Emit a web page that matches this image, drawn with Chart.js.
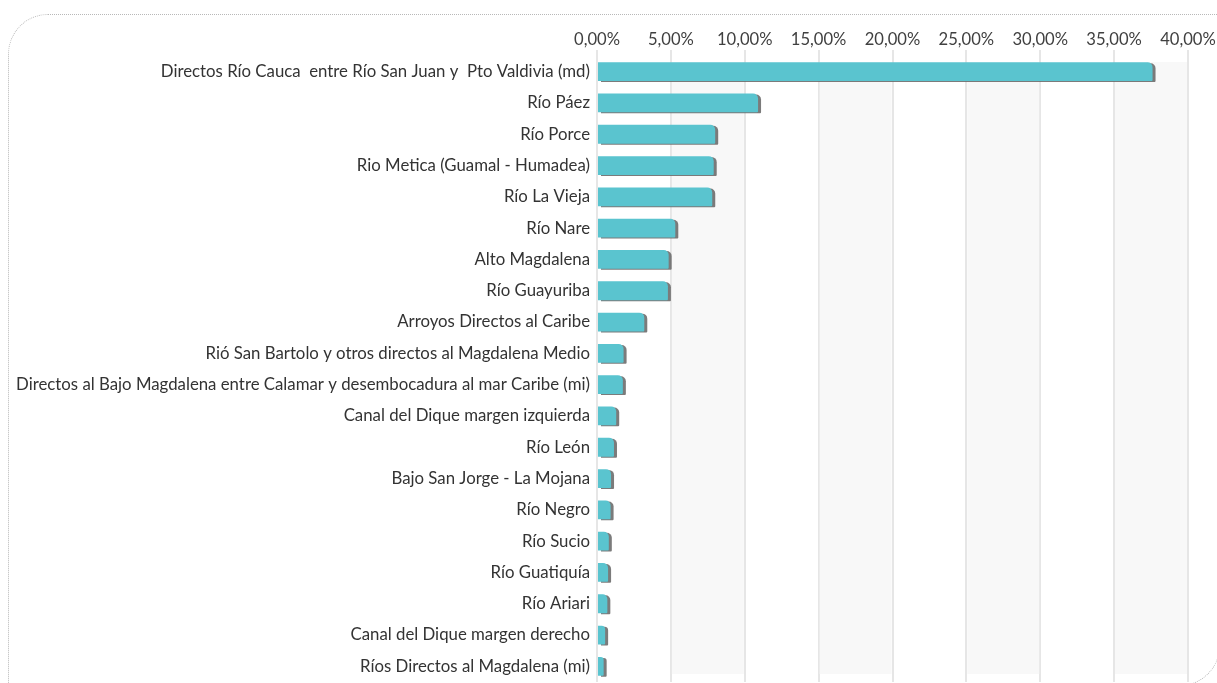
<!DOCTYPE html>
<html>
<head>
<meta charset="utf-8">
<script src="https://cdn.jsdelivr.net/npm/chart.js@4"></script>
<style>
  body { margin: 0; background: #fff; overflow: hidden; }
  #frame {
    position: absolute; left: 8px; top: 14px; width: 1210px; height: 670px;
    border: 1.5px dotted #b8b8b8; border-radius: 40px 0 40px 0;
  }
  #wrap { position: absolute; left: 0; top: 0; width: 1217px; height: 683px; }
</style>
</head>
<body>
<div id="frame"></div>
<div id="wrap"><canvas id="my_chart" width="1217" height="683"></canvas></div>
<script>
// cuencas, ordenadas de mayor a menor
const categories = [
  'Directos Río Cauca  entre Río San Juan y  Pto Valdivia (md)',
  'Río Páez',
  'Río Porce',
  'Rio Metica (Guamal - Humadea)',
  'Río La Vieja',
  'Río Nare',
  'Alto Magdalena',
  'Río Guayuriba',
  'Arroyos Directos al Caribe',
  'Rió San Bartolo y otros directos al Magdalena Medio',
  'Directos al Bajo Magdalena entre Calamar y desembocadura al mar Caribe (mi)',
  'Canal del Dique margen izquierda',
  'Río León',
  'Bajo San Jorge - La Mojana',
  'Río Negro',
  'Río Sucio',
  'Río Guatiquía',
  'Río Ariari',
  'Canal del Dique margen derecho',
  'Ríos Directos al Magdalena (mi)'
];

// porcentaje (%)
const values = [37.6, 10.9, 8.0, 7.9, 7.8, 5.3, 4.85, 4.8, 3.2, 1.8, 1.75, 1.3, 1.15, 0.95, 0.92, 0.8, 0.75, 0.7, 0.55, 0.45];

const x_min = 0;
const x_max = 40;
const x_step = 5;

function fmt_pct(v) {
  return v.toFixed(2).replace('.', ',') + '%';
}

// franjas grises alternas detras de las barras
const bands_plugin = {
  id: 'bands',
  beforeDatasetsDraw(chart) {
    const ctx = chart.ctx;
    const xs = chart.scales.x;
    const area = chart.chartArea;
    ctx.save();
    ctx.fillStyle = '#f8f8f8';
    for (let v = x_min + x_step; v < x_max; v += 2 * x_step) {
      const a = xs.getPixelForValue(v) + 1;
      const b = xs.getPixelForValue(v + x_step) - 1;
      ctx.fillRect(a, area.top + 6, b - a, area.bottom - area.top - 14);
    }
    ctx.restore();
  }
};

// sombra gris a la derecha de cada barra
const shadow_plugin = {
  id: 'bar_shadow',
  beforeDatasetsDraw(chart) {
    const ctx = chart.ctx;
    ctx.save();
    ctx.shadowColor = 'rgba(100,100,100,0.85)';
    ctx.shadowOffsetX = 3;
    ctx.shadowOffsetY = 1;
    ctx.shadowBlur = 0;
  },
  afterDatasetsDraw(chart) {
    chart.ctx.restore();
  }
};

function create_chart() {
  const data = {
    labels: categories,
    datasets: [{
      label: 'Porcentaje',
      data: values,
      backgroundColor: '#5ac4cf',
      borderRadius: { topLeft: 0, bottomLeft: 0, topRight: 5, bottomRight: 1 },
      borderSkipped: 'start',
      barPercentage: 0.6,
      categoryPercentage: 1.0
    }]
  };

  const config = {
    type: 'bar',
    data,
    plugins: [bands_plugin, shadow_plugin],
    options: {
      indexAxis: 'y',
      responsive: false,
      animation: false,
      layout: { padding: { left: 0, right: 29, top: 0, bottom: 1 } },
      plugins: {
        legend: { display: false },
        tooltip: { enabled: false }
      },
      scales: {
        x: {
          position: 'top',
          min: x_min,
          max: x_max,
          ticks: {
            stepSize: x_step,
            callback: (v) => fmt_pct(v),
            font: { family: 'Lato', size: 16.6 },
            color: '#404040',
            padding: 0,
            maxRotation: 0
          },
          grid: { color: '#e6e6e6', lineWidth: 2, tickLength: 6 },
          border: { display: false },
          afterFit(scale) { scale.height = 56; }
        },
        y: {
          ticks: {
            font: { family: 'Lato', size: 16.8 },
            color: '#333333',
            padding: 7,
            autoSkip: false
          },
          grid: { display: false, drawTicks: false },
          border: { display: false },
          afterFit(scale) {
            scale.width = 597;
            scale.paddingTop = 0;
            scale.paddingBottom = 0;
          }
        }
      }
    }
  };

  const canv = document.getElementById('my_chart');
  new Chart(canv.getContext('2d'), config);
}

create_chart();
</script>
</body>
</html>
